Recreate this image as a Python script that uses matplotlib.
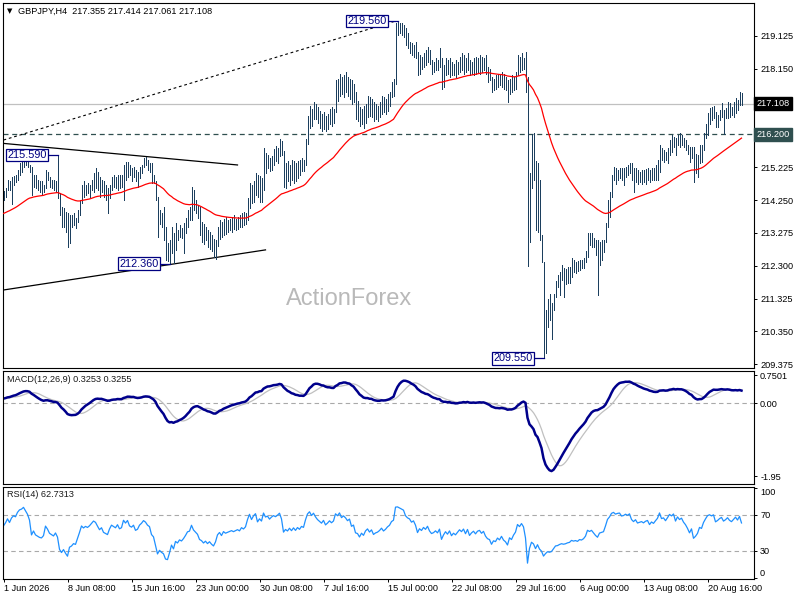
import matplotlib
matplotlib.use("Agg")
import matplotlib.pyplot as plt
import matplotlib.transforms as mtransforms
import numpy as np

plt.rcParams['font.family'] = ['Liberation Sans', 'DejaVu Sans']

# GBPJPY H4 bars, 1 Jun 2026 00:00 onwards (one value per bar)
highs = [
    214.53, 214.60, 214.84, 214.80, 214.94, 214.96, 214.99, 215.14, 215.34, 215.39,
    215.49, 215.54, 215.44, 215.29, 215.24, 214.99, 214.99, 214.84, 214.80, 214.80,
    214.70, 215.14, 215.09, 214.94, 214.84, 214.84, 214.80, 215.59, 214.45, 214.05,
    214.00, 213.90, 213.85, 213.80, 213.80, 213.85, 213.71, 213.95, 214.25, 214.70,
    214.80, 214.70, 214.75, 214.70, 214.84, 215.04, 215.19, 215.09, 214.94, 214.84,
    214.80, 214.70, 214.60, 214.70, 214.94, 214.99, 214.94, 214.99, 214.99, 214.99,
    215.29, 215.39, 215.39, 215.29, 215.19, 215.24, 215.14, 215.09, 215.24, 215.29,
    215.49, 215.54, 215.44, 215.34, 215.34, 214.99, 214.80, 214.35, 213.95, 213.85,
    214.05, 213.46, 212.97, 213.06, 213.46, 213.26, 213.56, 213.36, 213.51, 213.41,
    213.56, 213.71, 213.95, 214.05, 214.65, 214.55, 214.25, 214.10, 214.05, 213.60,
    213.55, 213.45, 213.35, 213.30, 213.20, 213.10, 213.05, 213.45, 213.65, 213.60,
    213.70, 213.75, 213.65, 213.70, 213.75, 213.80, 213.70, 213.75, 213.80, 213.85,
    213.90, 213.85, 214.30, 214.75, 214.70, 214.80, 215.05, 215.00, 214.95, 214.90,
    215.80, 215.65, 215.60, 215.50, 215.55, 215.75, 215.85, 215.80, 216.05, 216.00,
    215.70, 215.35, 215.40, 215.30, 215.45, 215.40, 215.35, 215.40, 215.45, 215.50,
    215.45, 216.05, 216.75, 217.05, 216.95, 217.15, 217.10, 217.00, 216.90, 216.80,
    216.85, 216.75, 216.80, 216.95, 217.00, 216.95, 217.80, 217.85, 218.00, 217.90,
    217.95, 218.05, 217.90, 217.85, 217.80, 217.70, 217.45, 217.20, 217.00, 216.95,
    217.05, 217.10, 217.35, 217.30, 217.25, 217.15, 217.10, 217.05, 217.15, 217.35,
    217.30, 217.25, 217.40, 217.45, 217.75, 217.85, 219.50, 219.56, 219.50, 219.50,
    219.45, 219.35, 219.20, 218.95, 218.90, 218.85, 218.95, 218.65, 218.55, 218.50,
    218.60, 218.70, 218.80, 218.70, 218.40, 218.35, 218.45, 218.40, 218.75, 218.45,
    218.25, 218.45, 218.40, 218.45, 218.35, 218.30, 218.40, 218.35, 218.50, 218.60,
    218.55, 218.45, 218.60, 218.40, 218.35, 218.45, 218.50, 218.45, 218.55, 218.50,
    218.45, 218.55, 218.20, 218.15, 217.90, 217.85, 217.95, 218.00, 217.95, 218.05,
    218.00, 217.90, 217.80, 217.85, 217.95, 217.90, 218.05, 218.55, 218.50, 218.60,
    218.45, 218.65, 217.90, 215.05, 216.20, 216.25, 215.40, 215.35, 214.85, 213.20,
    212.42, 211.00, 211.30, 211.45, 211.20, 211.45, 211.85, 212.02, 212.12, 212.32,
    212.22, 212.20, 212.25, 212.27, 212.52, 212.47, 212.42, 212.45, 212.47, 212.47,
    212.52, 212.75, 213.26, 213.26, 213.26, 213.11, 213.06, 213.06, 213.01, 213.06,
    213.06, 213.56, 214.25, 214.50, 214.99, 215.24, 215.19, 215.14, 215.19, 215.19,
    215.19, 215.24, 215.29, 215.34, 215.34, 215.19, 215.19, 215.14, 215.09, 215.14,
    215.14, 215.16, 215.19, 215.14, 215.19, 215.19, 215.29, 215.44, 215.88, 215.78,
    215.73, 215.68, 215.78, 216.03, 216.18, 216.13, 216.08, 216.18, 216.23, 216.18,
    216.08, 216.03, 215.88, 215.83, 215.83, 215.83, 215.63, 215.59, 215.88, 215.88,
    216.23, 216.52, 216.82, 216.97, 217.02, 217.04, 216.87, 216.77, 216.92, 217.12,
    216.92, 216.97, 217.17, 217.12, 217.02, 217.17, 217.27, 217.22, 217.46, 217.414,
]
lows = [
    214.25, 214.35, 214.55, 214.55, 214.13, 214.70, 214.79, 214.84, 214.99, 215.09,
    215.24, 215.29, 215.24, 215.09, 214.40, 214.65, 214.60, 214.55, 214.50, 214.40,
    214.50, 214.60, 214.84, 214.65, 214.60, 214.55, 214.50, 214.30, 213.80, 213.46,
    213.46, 213.31, 212.87, 212.97, 213.46, 213.51, 213.41, 213.61, 213.80, 214.15,
    214.35, 214.40, 214.45, 214.35, 214.55, 214.50, 214.60, 214.55, 214.35, 214.50,
    214.35, 214.25, 213.85, 214.30, 214.55, 214.65, 214.60, 214.55, 214.60, 214.65,
    214.25, 214.84, 214.94, 214.99, 214.80, 214.94, 214.80, 214.65, 214.89, 215.04,
    215.24, 215.29, 215.14, 215.09, 214.75, 214.75, 214.25, 213.16, 213.55, 213.46,
    213.06, 212.47, 212.45, 212.36, 212.67, 212.37, 212.77, 213.06, 213.16, 213.11,
    212.67, 213.26, 213.46, 213.66, 213.66, 213.95, 213.85, 213.71, 213.21, 213.00,
    212.95, 213.05, 212.85, 212.80, 212.75, 212.55, 212.50, 212.90, 213.10, 213.15,
    213.20, 213.25, 213.30, 213.35, 213.30, 213.40, 213.35, 213.40, 213.45, 213.45,
    213.50, 213.55, 213.65, 214.00, 214.15, 214.20, 214.40, 214.35, 214.20, 214.20,
    214.55, 215.05, 215.20, 215.10, 215.15, 215.30, 215.40, 215.35, 215.55, 215.60,
    214.65, 214.60, 214.80, 214.70, 214.85, 214.75, 214.80, 214.90, 215.00, 215.10,
    215.10, 215.30, 215.90, 216.40, 216.45, 216.65, 216.65, 216.55, 216.40, 216.30,
    216.35, 216.30, 216.35, 216.50, 216.45, 216.55, 216.85, 217.20, 217.35, 217.40,
    217.30, 217.45, 217.35, 217.25, 217.10, 217.15, 216.65, 216.60, 216.45, 216.50,
    216.40, 216.55, 216.70, 216.75, 216.70, 216.60, 216.65, 216.60, 216.70, 216.80,
    216.85, 216.80, 216.90, 217.05, 217.30, 217.35, 217.70, 219.15, 219.20, 219.15,
    219.10, 218.85, 218.75, 218.60, 218.55, 218.50, 218.45, 217.95, 218.00, 218.15,
    218.20, 218.25, 218.35, 218.30, 218.00, 218.05, 218.10, 218.10, 218.20, 217.55,
    217.60, 217.95, 218.00, 217.90, 217.95, 217.95, 217.90, 218.00, 218.05, 218.10,
    218.00, 218.05, 218.10, 217.95, 218.00, 217.95, 218.00, 218.05, 218.00, 218.05,
    218.10, 218.00, 217.75, 217.80, 217.45, 217.50, 217.55, 217.60, 217.65, 217.60,
    217.55, 217.50, 217.15, 217.40, 217.45, 217.50, 217.55, 217.95, 218.05, 218.10,
    218.15, 217.45, 212.30, 213.00, 214.60, 214.85, 213.35, 213.30, 213.05, 212.40,
    209.55, 209.70, 210.49, 210.70, 210.14, 210.99, 211.38, 211.68, 211.43, 211.88,
    211.38, 211.75, 211.80, 211.78, 211.97, 212.12, 212.07, 212.15, 212.17, 212.22,
    212.22, 212.40, 212.57, 212.91, 212.86, 212.86, 212.62, 211.43, 212.32, 212.47,
    212.72, 213.01, 213.45, 213.76, 214.35, 214.84, 214.74, 214.84, 214.89, 214.84,
    214.69, 214.94, 214.99, 215.04, 214.84, 214.50, 214.79, 214.74, 214.79, 214.74,
    214.79, 214.74, 214.84, 214.79, 214.84, 214.84, 214.84, 214.84, 215.09, 215.44,
    215.39, 215.44, 215.34, 215.59, 215.68, 215.83, 215.59, 215.88, 215.83, 215.88,
    215.83, 215.73, 215.63, 215.39, 215.49, 214.79, 215.04, 214.94, 215.34, 215.39,
    215.73, 216.08, 216.18, 216.52, 216.62, 216.67, 216.43, 216.43, 216.62, 216.72,
    216.20, 216.67, 216.67, 216.72, 216.77, 216.72, 216.82, 216.92, 217.07, 217.061,
]
closes = [
    214.45, 214.55, 214.70, 214.62, 214.80, 214.90, 214.88, 215.10, 215.25, 215.30,
    215.42, 215.35, 215.28, 215.15, 214.70, 214.85, 214.70, 214.65, 214.60, 214.58,
    214.65, 215.00, 214.90, 214.75, 214.70, 214.65, 214.75, 214.60, 213.95, 213.70,
    213.80, 213.50, 213.20, 213.55, 213.60, 213.70, 213.65, 213.90, 214.20, 214.60,
    214.50, 214.60, 214.55, 214.65, 214.80, 214.95, 214.90, 214.75, 214.60, 214.70,
    214.50, 214.45, 214.40, 214.65, 214.85, 214.80, 214.75, 214.90, 214.75, 214.80,
    215.20, 215.10, 215.25, 215.05, 215.00, 215.10, 214.90, 214.95, 215.15, 215.25,
    215.40, 215.35, 215.25, 215.20, 214.90, 214.80, 214.35, 213.60, 213.75, 213.55,
    213.40, 212.70, 212.60, 212.90, 213.30, 212.90, 213.35, 213.20, 213.40, 213.30,
    213.45, 213.65, 213.90, 213.95, 214.40, 214.10, 213.95, 213.80, 213.40, 213.30,
    213.10, 213.20, 213.00, 213.10, 212.90, 212.75, 212.95, 213.35, 213.50, 213.30,
    213.55, 213.45, 213.50, 213.55, 213.60, 213.55, 213.60, 213.65, 213.60, 213.75,
    213.70, 213.80, 214.20, 214.60, 214.40, 214.70, 214.90, 214.55, 214.80, 214.70,
    215.50, 215.30, 215.40, 215.25, 215.45, 215.60, 215.55, 215.70, 215.90, 215.65,
    214.90, 215.10, 215.00, 215.20, 215.05, 215.25, 215.10, 215.30, 215.20, 215.40,
    215.35, 215.95, 216.60, 216.90, 216.70, 217.00, 216.80, 216.65, 216.55, 216.45,
    216.70, 216.45, 216.60, 216.80, 216.70, 216.85, 217.60, 217.50, 217.85, 217.60,
    217.80, 217.70, 217.55, 217.70, 217.30, 217.40, 216.90, 216.85, 216.60, 216.85,
    216.70, 217.00, 217.15, 216.95, 217.10, 216.80, 216.90, 216.95, 217.05, 217.20,
    217.05, 217.15, 217.30, 217.40, 217.65, 217.75, 219.30, 219.35, 219.30, 219.25,
    219.20, 218.95, 218.85, 218.80, 218.65, 218.75, 218.55, 218.15, 218.40, 218.30,
    218.50, 218.40, 218.60, 218.35, 218.20, 218.25, 218.35, 218.25, 218.45, 217.85,
    218.10, 218.30, 218.15, 218.35, 218.05, 218.20, 218.10, 218.25, 218.40, 218.30,
    218.45, 218.20, 218.45, 218.10, 218.25, 218.35, 218.20, 218.35, 218.40, 218.25,
    218.35, 218.10, 217.95, 217.90, 217.60, 217.75, 217.70, 217.85, 217.75, 217.90,
    217.70, 217.60, 217.40, 217.70, 217.60, 217.80, 217.95, 218.40, 218.30, 218.50,
    218.35, 217.70, 213.00, 214.70, 215.60, 215.20, 213.90, 214.50, 213.20, 212.50,
    210.40, 210.80, 211.10, 210.90, 211.00, 211.40, 211.80, 211.85, 212.00, 212.10,
    212.00, 212.05, 212.15, 212.20, 212.40, 212.30, 212.35, 212.25, 212.40, 212.35,
    212.45, 212.65, 213.15, 213.05, 213.15, 212.95, 212.75, 212.60, 212.90, 212.95,
    213.00, 213.45, 214.10, 214.40, 214.90, 215.05, 214.95, 215.05, 215.10, 214.95,
    215.00, 215.15, 215.10, 215.25, 215.00, 214.90, 215.05, 214.90, 214.95, 215.00,
    214.95, 215.05, 215.10, 214.95, 215.10, 215.05, 215.20, 215.35, 215.75, 215.55,
    215.60, 215.50, 215.70, 215.95, 215.90, 216.05, 215.80, 216.10, 216.00, 216.10,
    215.95, 215.85, 215.70, 215.50, 215.70, 215.20, 215.30, 215.45, 215.80, 215.75,
    216.15, 216.45, 216.75, 216.85, 216.80, 216.90, 216.60, 216.70, 216.85, 216.95,
    216.80, 216.90, 217.05, 216.95, 216.90, 217.05, 217.20, 217.10, 217.355, 217.108,
]

# indicator values on the bar just before the first visible bar
ma55_start = 213.83
ema12_start = 214.25
ema26_start = 214.13
rsi_gain_start = 0.055
rsi_loss_start = 0.040

# marked highs / lows (bar, price)
mark_bars = [27, 197, 83, 270]
mark_prices = [215.590, 219.560, 212.360, 209.550]

# drawn trendlines: (bar0, price0, bar1, price1)
channel_top = (0, 215.93, 117, 215.29)
channel_bottom = (0, 211.58, 131, 212.77)
dotted_line = (0, 216.03, 196, 219.56)

last_price = 217.108
level_line = 216.200

price_ticks = [219.125, 218.150, 215.225, 214.250, 213.275, 212.300, 211.325, 210.350, 209.375]
time_labels = ["1 Jun 2026", "8 Jun 08:00", "15 Jun 16:00", "23 Jun 00:00", "30 Jun 08:00",
               "7 Jul 16:00", "15 Jul 00:00", "22 Jul 08:00", "29 Jul 16:00", "6 Aug 00:00",
               "13 Aug 08:00", "20 Aug 16:00"]
time_label_bars = [0, 32, 64, 96, 128, 160, 192, 224, 256, 288, 320, 352]

header = "GBPJPY,H4  217.355 217.414 217.061 217.108"
macd_title = "MACD(12,26,9) 0.3253 0.3255"
rsi_title = "RSI(14) 62.7313"


def ema(values, start, period):
    k = 2.0 / (period + 1)
    out = []
    prev = start
    for v in values:
        prev = prev + k * (v - prev)
        out.append(prev)
    return np.array(out)


c = np.array(closes)
x = np.arange(len(c))
ma55 = ema(c, ma55_start, 55)
macd = ema(c, ema12_start, 12) - ema(c, ema26_start, 26)
signal = np.array([macd[max(0, i - 8):i + 1].mean() for i in range(len(macd))])

diff = np.diff(c, prepend=c[0])
g, l = rsi_gain_start, rsi_loss_start
rsi = []
for d in diff:
    g = (g * 13 + max(d, 0)) / 14
    l = (l * 13 + max(-d, 0)) / 14
    rsi.append(100 - 100 / (1 + g / l))

# ---- layout in pixels ----
W, H = 800, 600
fig = plt.figure(figsize=(8, 6), dpi=100)


def box(left, top, right, bottom):
    return [left / W, 1 - bottom / H, (right - left) / W, (bottom - top) / H]


ax = fig.add_axes(box(2.5, 2.5, 754, 367.5))
ax_macd = fig.add_axes(box(2.5, 371, 754, 483.5), sharex=ax)
ax_rsi = fig.add_axes(box(2.5, 487, 754, 578.5), sharex=ax)

fs = 6.6
for a in (ax, ax_macd, ax_rsi):
    for s in a.spines.values():
        s.set_linewidth(0.8)
        s.set_color('black')
    a.yaxis.tick_right()
    a.tick_params(axis='y', direction='out', length=2.2, width=0.7, pad=2.2,
                  labelsize=fs, colors='black')
    a.tick_params(axis='x', bottom=False, labelbottom=False)
    a.set_facecolor('white')

ax.set_xlim(-0.5, 375.25)
ax.set_ylim(209.28, 220.111)

# price bars
ax.vlines(x, lows, highs, colors='#1c3f5e', linewidth=0.55, antialiased=False, zorder=3)
ax.plot(x, ma55, color='red', lw=0.9, zorder=4)

ax.axhline(last_price, color='#c0c0c0', lw=0.9, zorder=1)
ax.axhline(level_line, color='#2f4f4f', lw=0.9, ls=(0, (4, 3)), zorder=1)

for (b0, p0, b1, p1) in (channel_top, channel_bottom):
    ax.plot([b0, b1], [p0, p1], color='black', lw=0.9, zorder=2)
b0, p0, b1, p1 = dotted_line
ax.plot([b0, b1], [p0, p1], color='black', lw=0.8, ls=(0, (2.5, 2.5)), zorder=2)

for b, p in zip(mark_bars, mark_prices):
    ax.plot([b - 5, b], [p, p], color='#000080', lw=0.9, zorder=5)
    ax.text(b - 5.3, p, f"{p:.3f}", color='#000080', fontsize=7.8, ha='right', va='center',
            zorder=6, bbox=dict(boxstyle='square,pad=0.12', fc='white', ec='#000080', lw=0.9))

ax.set_yticks(price_ticks)
ax.set_yticklabels([f"{t:.3f}" for t in price_ticks])

trans = mtransforms.blended_transform_factory(ax.transAxes, ax.transData)
ax.text(1.0035, last_price, f"{last_price:.3f}", transform=trans, color='white', fontsize=fs,
        ha='left', va='center', clip_on=False,
        bbox=dict(boxstyle='square,pad=0.25', fc='black', ec='black'))
ax.text(1.0035, level_line, f"{level_line:.3f}", transform=trans, color='white', fontsize=fs,
        ha='left', va='center', clip_on=False,
        bbox=dict(boxstyle='square,pad=0.25', fc='#2f4f4f', ec='#2f4f4f'))

ax.text(0.4617, 0.189, "ActionForex", transform=ax.transAxes, fontsize=17, color='#b9b9b9',
        ha='center', va='center', zorder=0)
ax.text(0.0098, 0.977, "\u25bc", transform=ax.transAxes, fontsize=5, family='DejaVu Sans',
        ha='center', va='center')
ax.text(0.0206, 0.977, header, transform=ax.transAxes, fontsize=fs, ha='left', va='center')

# MACD
ax_macd.set_ylim(-2.15, 0.866)
ax_macd.axhline(0, color='#a9a9a9', lw=0.8, ls=(0, (4, 3)))
ax_macd.plot(x, signal, color='#c0c0c0', lw=0.9)
ax_macd.plot(x, macd, color='#00008b', lw=1.8)
ax_macd.set_yticks([0.7501, 0.0, -1.95])
ax_macd.set_yticklabels(["0.7501", "0.00", "-1.95"])
ax_macd.text(0.006, 0.92, macd_title, transform=ax_macd.transAxes, fontsize=fs,
             color='#1a1a1a', ha='left', va='center')

# RSI
ax_rsi.set_ylim(-0.6, 101.1)
ax_rsi.axhline(70, color='#a9a9a9', lw=0.8, ls=(0, (4, 3)))
ax_rsi.axhline(30, color='#a9a9a9', lw=0.8, ls=(0, (4, 3)))
ax_rsi.plot(x, rsi, color='#1e90ff', lw=0.9)
ax_rsi.set_yticks([100, 70, 30, 0])
rl = ax_rsi.set_yticklabels(["100", "70", "30", "0"])
rl[0].set_va('top')
rl[-1].set_va('bottom')
ax_rsi.text(0.006, 0.913, rsi_title, transform=ax_rsi.transAxes, fontsize=fs,
            color='#1a1a1a', ha='left', va='center')

ax_rsi.set_xticks(time_label_bars)
ax_rsi.set_xticklabels(time_labels, ha='left')
ax_rsi.tick_params(axis='x', bottom=True, labelbottom=True, direction='out', length=2.2,
                   width=0.7, pad=2, labelsize=fs)

fig.savefig("out.png", dpi=100, facecolor='white')
